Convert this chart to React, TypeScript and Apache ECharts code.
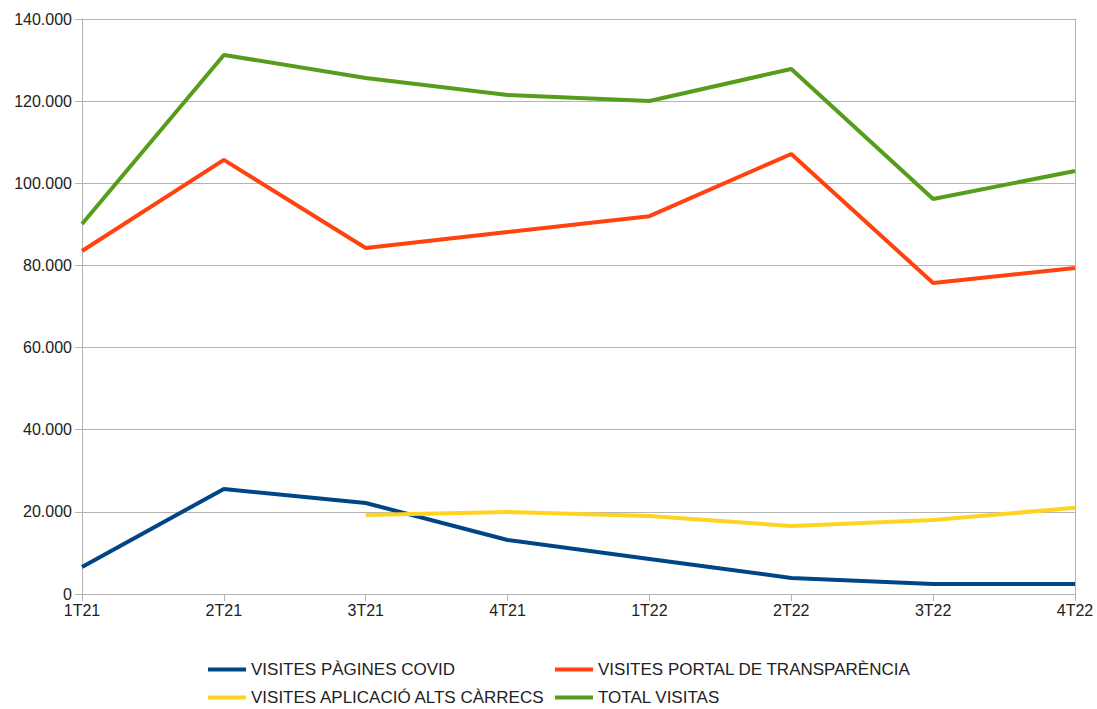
import React, { useEffect, useRef } from "react";
import * as echarts from "echarts";

const categories = ["1T21", "2T21", "3T21", "4T21", "1T22", "2T22", "3T22", "4T22"];
const covid = [6600, 25570, 22160, 13150, 8520, 3900, 2430, 2430];
const portal = [83500, 105700, 84250, 88150, 92000, 107140, 75700, 79400];
const altsCarrecs = [null, null, 19240, 19970, 19000, 16560, 18000, 21000];
const total = [90100, 131250, 125650, 121500, 120050, 127840, 96180, 103000];

const names = [
  "VISITES PÀGINES COVID",
  "VISITES PORTAL DE TRANSPARÈNCIA",
  "VISITES APLICACIÓ ALTS CÀRRECS",
  "TOTAL VISITAS",
];
const colors = ["#004586", "#ff420e", "#ffd320", "#579d1c"];

export default function App() {
  const ref = useRef<HTMLDivElement>(null);
  useEffect(() => {
    if (!ref.current) return;
    const chart = echarts.init(ref.current, null, { renderer: "svg" });
    const font = "'Liberation Sans', Arial, sans-serif";
    const legendCommon = {
      orient: "vertical" as const,
      top: 661,
      height: 48,
      itemWidth: 38,
      itemHeight: 4,
      itemGap: 11,
      padding: 0,
      icon: "rect",
      textStyle: { fontFamily: font, fontSize: 17, color: "#222" },
    };
    const fmt = (v: number) =>
      String(Math.round(v)).replace(/\B(?=(\d{3})+(?!\d))/g, ".");
    chart.setOption({
      animation: false,
      color: colors,
      grid: { left: 82, right: 22, top: 19, bottom: 115 },
      legend: [
        { ...legendCommon, left: 208, data: [names[0], names[2]] },
        { ...legendCommon, left: 555, data: [names[1], names[3]] },
      ],
      xAxis: {
        type: "category",
        data: categories,
        boundaryGap: false,
        axisLine: { lineStyle: { color: "#b3b3b3", width: 1 } },
        axisTick: { show: true, length: 7, lineStyle: { color: "#b3b3b3" } },
        axisLabel: { fontFamily: font, fontSize: 16, color: "#222", margin: 8 },
        splitLine: { show: false },
      },
      yAxis: [
        {
          type: "value",
          min: 0,
          max: 140000,
          interval: 20000,
          axisLine: { show: true, lineStyle: { color: "#b3b3b3", width: 1 } },
          axisTick: { show: true, length: 7, lineStyle: { color: "#b3b3b3" } },
          axisLabel: {
            fontFamily: font,
            fontSize: 16,
            color: "#222",
            margin: 10,
            formatter: fmt,
          },
          splitLine: { show: true, lineStyle: { color: "#b3b3b3", width: 1 } },
        },
        {
          type: "value",
          position: "right",
          min: 0,
          max: 140000,
          interval: 20000,
          axisLine: { show: true, lineStyle: { color: "#b3b3b3", width: 1 } },
          axisTick: { show: false },
          axisLabel: { show: false },
          splitLine: { show: false },
        },
      ],
      series: [
        { name: names[0], type: "line", data: covid, symbol: "none", lineStyle: { width: 4, color: colors[0] }, itemStyle: { color: colors[0] } },
        { name: names[1], type: "line", data: portal, symbol: "none", lineStyle: { width: 4, color: colors[1] }, itemStyle: { color: colors[1] } },
        { name: names[2], type: "line", data: altsCarrecs, symbol: "none", lineStyle: { width: 4, color: colors[2] }, itemStyle: { color: colors[2] } },
        { name: names[3], type: "line", data: total, symbol: "none", lineStyle: { width: 4, color: colors[3] }, itemStyle: { color: colors[3] } },
      ],
    });
    return () => chart.dispose();
  }, []);
  return <div ref={ref} style={{ width: 1097, height: 709, position: "absolute", left: 0, top: 0 }} />;
}
